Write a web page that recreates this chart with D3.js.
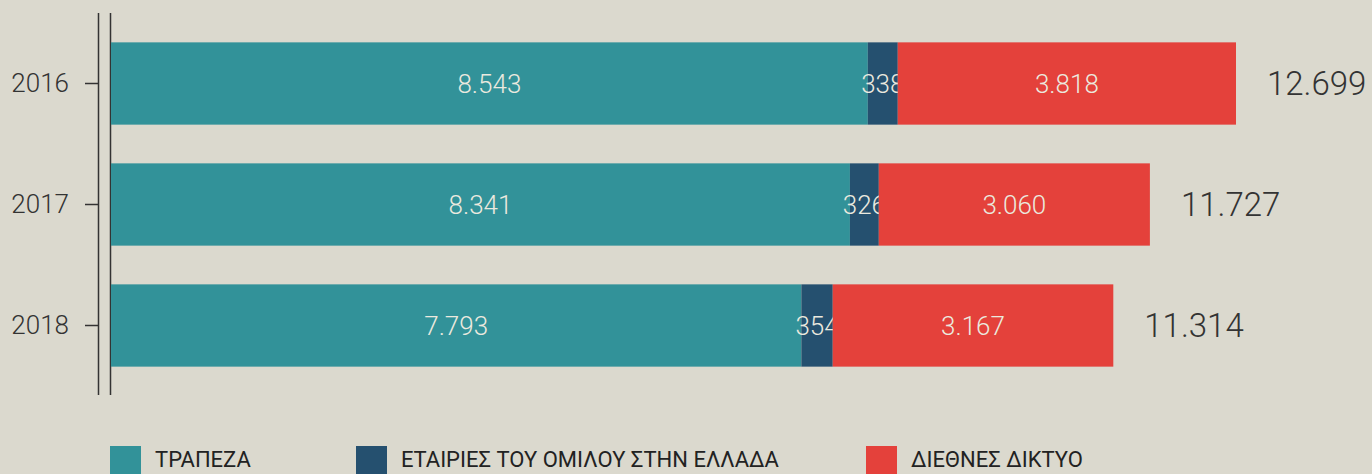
<!DOCTYPE html>
<html lang="el">
<head>
    <meta charset="UTF-8">
    <title>Εργαζόμενοι 2016-2018</title>
    <style>
        body {
            margin: 0;
            background: #dbd9ce;
        }
        svg {
            display: block;
            font-family: Roboto, "DejaVu Sans Condensed", sans-serif;
        }
        .year text {
            font-size: 26px;
            font-weight: 300;
            fill: #333;
        }
        .seg-label {
            font-size: 26px;
            font-weight: 300;
            fill: #ebe9df;
            text-anchor: middle;
        }
        .total {
            font-size: 33px;
            font-weight: 300;
            fill: #333;
        }
        .legend text {
            font-size: 22px;
            fill: #222;
        }
    </style>
</head>
<body>
    <svg width="1372" height="474"></svg>
    <script src="https://d3js.org/d3.v7.min.js"></script>
    <script>
        const years = ["2016", "2017", "2018"];
        const bank = [8543, 8341, 7793];
        const groupGreece = [338, 326, 354];
        const network = [3818, 3060, 3167];
        const totals = [12699, 11727, 11314];

        const seriesNames = ["ΤΡΑΠΕΖΑ", "ΕΤΑΙΡΙΕΣ ΤΟΥ ΟΜΙΛΟΥ ΣΤΗΝ ΕΛΛΑΔΑ", "ΔΙΕΘΝΕΣ ΔΙΚΤΥΟ"];
        const colors = ["#329299", "#25506f", "#e4413b"];

        const gr = d3.formatLocale({ decimal: ",", thousands: ".", grouping: [3], currency: ["", "€"] });
        const fmt = gr.format(",d");

        const rows = years.map((y, i) => ({ year: y, values: [bank[i], groupGreece[i], network[i]], total: totals[i] }));

        const svg = d3.select("svg");

        const x = d3.scaleLinear().domain([0, d3.max(totals)]).range([111, 1236]);
        const y = d3.scaleBand().domain(years).range([23, 386]).paddingInner(0.32).paddingOuter(0.16);

        // double axis line on the left
        svg.append("line").attr("x1", 98.5).attr("x2", 98.5).attr("y1", 13).attr("y2", 395)
            .attr("stroke", "#333").attr("stroke-width", 1.5);
        svg.append("line").attr("x1", 110.5).attr("x2", 110.5).attr("y1", 13).attr("y2", 395)
            .attr("stroke", "#333").attr("stroke-width", 1.5);

        const yAxis = svg.append("g")
            .attr("class", "year")
            .attr("transform", "translate(98,0)")
            .call(d3.axisLeft(y).tickSize(13).tickPadding(16))
            .attr("font-family", null)
            .attr("font-size", null);
        yAxis.select(".domain").remove();
        yAxis.selectAll(".tick line").attr("stroke", "#333").attr("stroke-width", 1.5);
        yAxis.selectAll(".tick text").attr("fill", null);

        const row = svg.selectAll(".row").data(rows).enter().append("g")
            .attr("class", "row")
            .attr("transform", d => "translate(0," + y(d.year) + ")");

        const segs = row.selectAll(".seg")
            .data(d => {
                let acc = 0;
                return d.values.map((v, k) => {
                    const s = { k: k, v: v, x0: acc, x1: acc + v };
                    acc += v;
                    return s;
                });
            })
            .enter().append("g").attr("class", "seg");

        segs.append("rect")
            .attr("x", d => x(d.x0))
            .attr("width", d => x(d.x1) - x(d.x0))
            .attr("height", y.bandwidth())
            .attr("fill", d => colors[d.k]);

        segs.append("text")
            .attr("class", "seg-label")
            .attr("x", d => (x(d.x0) + x(d.x1)) / 2)
            .attr("y", y.bandwidth() / 2)
            .attr("dy", "0.36em")
            .text(d => fmt(d.v));

        row.append("text")
            .attr("class", "total")
            .attr("x", d => x(d.total) + 31)
            .attr("y", y.bandwidth() / 2)
            .attr("dy", "0.36em")
            .text(d => fmt(d.total));

        // legend
        const legendX = [110, 356, 866];
        const legend = svg.selectAll(".legend").data(seriesNames).enter().append("g")
            .attr("class", "legend")
            .attr("transform", (d, i) => "translate(" + legendX[i] + ",446)");
        legend.append("rect").attr("width", 31).attr("height", 28).attr("fill", (d, i) => colors[i]);
        legend.append("text").attr("x", 45).attr("y", 21).text(d => d);
    </script>
</body>
</html>
